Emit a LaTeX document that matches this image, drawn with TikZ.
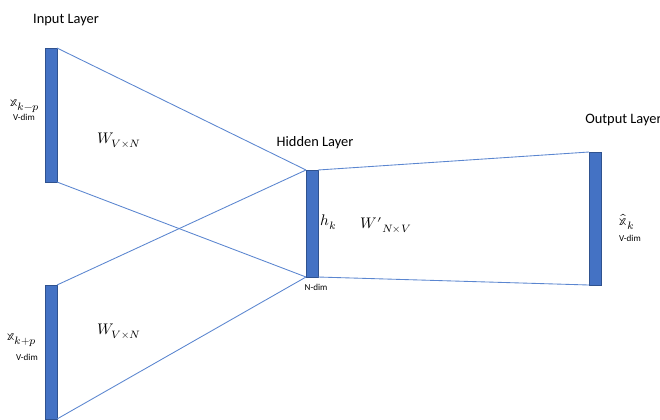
\documentclass[tikz,border=0pt]{standalone}
\usepackage{unicode-math}
\setmainfont{Carlito}
\definecolor{barblue}{HTML}{4472C4}
\definecolor{bardark}{HTML}{2F528F}
\definecolor{linkblue}{HTML}{5B86D0}
\begin{document}
\begin{tikzpicture}[x=0.75pt,y=-0.75pt,
  bar/.style={draw=bardark,fill=barblue,line width=0.5pt,inner sep=0pt,outer sep=0pt,minimum width=9pt},
  link/.style={draw=linkblue,line width=0.65pt},
  layer/.style={font=\fontsize{10.8}{12}\selectfont,inner sep=0pt},
  dimlab/.style={font=\fontsize{6.8}{8}\selectfont,inner sep=0pt},
  mlab/.style={font=\fontsize{11.5}{13}\selectfont,inner sep=0pt}]
\useasboundingbox (0,0) rectangle (660,419);
\clip (0,0) rectangle (660,419);
% bars
\node[bar,minimum height=100.5pt] (in1) at (51,115) {};
\node[bar,minimum height=100.5pt] (in2) at (51,352) {};
\node[bar,minimum height=80.25pt] (hid) at (312,223.5) {};
\node[bar,minimum height=99.75pt] (out) at (595,218.5) {};
% connectors
\draw[link] (in1.north east) -- (hid.north west);
\draw[link] (in1.south east) -- (hid.south west);
\draw[link] (in2.north east) -- (hid.north west);
\draw[link] (in2.south east) -- (hid.south west);
\draw[link] (hid.north east) -- (out.north west);
\draw[link] (hid.south east) -- (out.south west);
% labels
\node[layer] (lin) at (66,20) {Input Layer};
\node[layer] (lhid) at (315,143) {Hidden Layer};
\node[layer,anchor=west] (lout) at (585,120) {Output Layer};
\node[mlab] (x1) at (25,106) {$\mathbb{x}_{k-p}$};
\node[dimlab] (d1) at (24,117) {V-dim};
\node[mlab] (x2) at (22,340) {$\mathbb{x}_{k+p}$};
\node[dimlab] (d2) at (27,357) {V-dim};
\node[mlab] (w1) at (119,140) {$W_{V\times N}$};
\node[mlab] (w2) at (119,331) {$W_{V\times N}$};
\node[mlab] (hk) at (329,222) {$h_k$};
\node[mlab] (w3) at (386,225) {$W'{}_{N\times V}$};
\node[dimlab] (d3) at (316,287) {N-dim};
\node[mlab] (xo) at (627,222) {$\hat{\mathbb{x}}_k$};
\node[dimlab] (d4) at (630,238) {V-dim};
\end{tikzpicture}
\end{document}
